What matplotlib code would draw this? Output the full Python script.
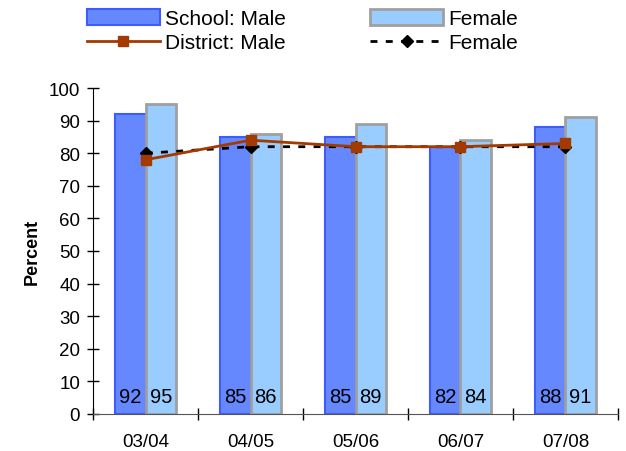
import numpy as np
import matplotlib.pyplot as plt
from matplotlib.lines import Line2D
from matplotlib.patches import Patch

plt.rcParams["font.family"] = ["Liberation Sans", "DejaVu Sans"]

years = ["03/04", "04/05", "05/06", "06/07", "07/08"]
school_male = [92, 85, 85, 82, 88]
school_female = [95, 86, 89, 84, 91]
district_male = [78, 84, 82, 82, 83]
district_female = [80, 82, 82, 82, 82]

fig = plt.figure(figsize=(6.26, 4.52), dpi=100)
ax = fig.add_axes([0.149, 0.082, 0.838, 0.721])

x = np.arange(len(years))
w = 0.29
ax.bar(x - w / 2, school_male, w, color="#6688ff", edgecolor="#3d5cff", linewidth=1.5, zorder=2)
ax.bar(x + w / 2, school_female, w, color="#99ccff", edgecolor="#a0a0a0", linewidth=2, zorder=2)

ax.plot(x, district_male, color="#a33a00", linewidth=2, marker="s", markersize=7, zorder=4)
ax.plot(x, district_female, color="black", linewidth=2, linestyle=(0, (2.5, 3)),
        marker="D", markersize=6, zorder=3)

for i in range(len(years)):
    ax.text(x[i] - w / 2, 5.5, str(school_male[i]), ha="center", va="center", fontsize=14.5, zorder=5)
    ax.text(x[i] + w / 2, 5.5, str(school_female[i]), ha="center", va="center", fontsize=14.5, zorder=5)

ax.set_xlim(-0.5, len(years) - 0.5)
ax.set_ylim(0, 100)
ax.set_yticks(range(0, 101, 10))
ax.set_xticks(x)
ax.set_xticklabels(years)
ax.set_xticks(np.arange(-0.5, len(years)), minor=True)
ax.tick_params(axis="x", which="major", length=0, pad=14, labelsize=13.5)
ax.tick_params(axis="x", which="minor", length=9, direction="inout", width=1)
ax.tick_params(axis="y", length=9, direction="inout", labelsize=13.5, width=1, pad=5)

for s in ["top", "right"]:
    ax.spines[s].set_visible(False)
ax.spines["bottom"].set_color("#555555")
ax.spines["left"].set_color("black")
ax.set_ylabel("Percent", fontsize=13, fontweight="bold", labelpad=6)

handles = [
    Patch(facecolor="#6688ff", edgecolor="#3d5cff", linewidth=1.5),
    Line2D([], [], color="#a33a00", linewidth=2, marker="s", markersize=7),
    Patch(facecolor="#99ccff", edgecolor="#a0a0a0", linewidth=2),
    Line2D([], [], color="black", linewidth=2, linestyle=(0, (2.5, 3)), marker="D", markersize=6),
]
labels = ["School: Male", "District: Male", "Female", "Female"]
fig.legend(handles, labels, loc="upper left", bbox_to_anchor=(0.109, 1.019), ncol=2, frameon=False,
           fontsize=15, handlelength=3.5, handleheight=0.8, handletextpad=0.25,
           columnspacing=4.05, labelspacing=0.22)

fig.savefig("out.png", dpi=100)
